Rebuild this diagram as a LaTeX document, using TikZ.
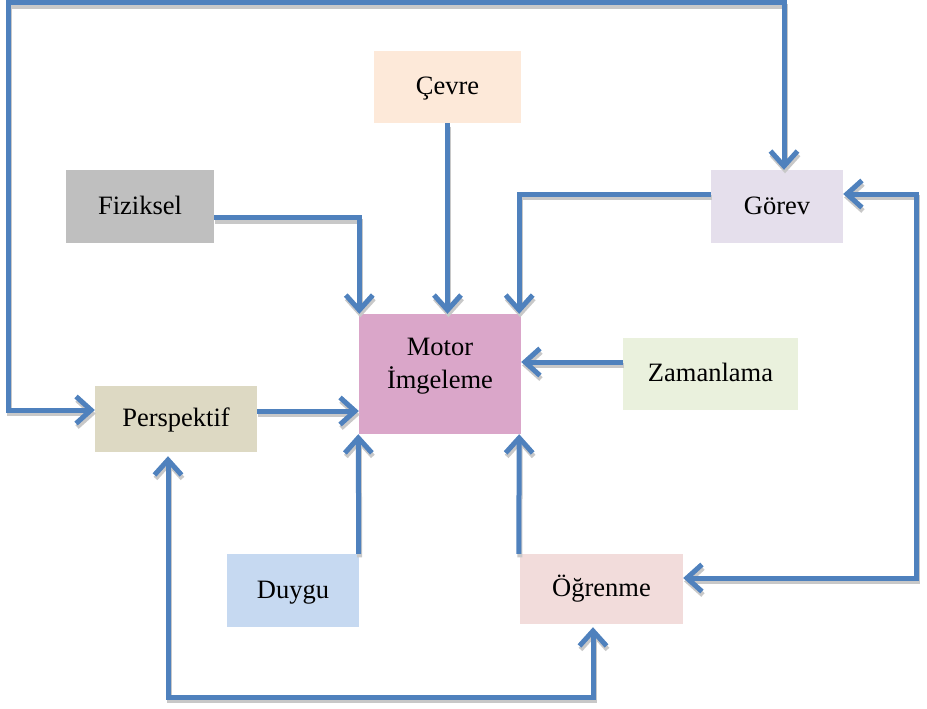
\documentclass[tikz,border=0pt]{standalone}
\usepackage{fontspec}
\setmainfont{Liberation Serif}
\usetikzlibrary{arrows.meta,calc}
\definecolor{linkblue}{HTML}{4F81BD}
\definecolor{shadowgray}{HTML}{C8C8C8}
\definecolor{cevrec}{HTML}{FDE9D9}
\definecolor{fizikc}{HTML}{BFBFBF}
\definecolor{gorevc}{HTML}{E5DFEC}
\definecolor{motorc}{HTML}{DAA6C9}
\definecolor{zamanc}{HTML}{EAF1DD}
\definecolor{perspc}{HTML}{DDD9C3}
\definecolor{duyguc}{HTML}{C6D9F1}
\definecolor{ogrenc}{HTML}{F2DCDB}
\tikzset{
  box/.style={draw=none, inner sep=0pt, align=center, text=black,
    text height=18pt, text depth=2.4pt,
    font=\fontsize{26.5}{33}\selectfont},
  barb/.tip={Straight Barb[length=15pt, width=27pt]},
  link/.style={line width=5pt, arrows={-barb}},
  twoway/.style={line width=5pt, arrows={barb-barb}}
}
% every connector of the chart; drawn once as a shadow, once in blue
\newcommand\chartlinks{%
  \draw[link] (cevre.south) -- (cevre.south |- motor.north);
  \draw[link] (fiziksel.east |- 0,217.5) -| ($(motor.north west)+(0.5,0)$);
  \draw[link] (gorev.west |- 0,194) -| ($(motor.north east)+(-2,0)$);
  \draw[link] (zaman.west |- 0,362) -- (motor.east |- 0,362);
  \draw[link] (persp.east |- 0,411) -- (motor.west |- 0,411);
  \draw[link] ($(duygu.north east)+(-0.5,0)$) -- ($(motor.south west)+(-0.5,0)$);
  \draw[link] ($(ogren.north west)+(-1,0)$) -- ($(motor.south east)+(-2,0)$);
  \draw[twoway] (persp.west |- 0,410) -| (topleft) -- (topright) -- (topright |- gorev.north);
  \draw[twoway] (gorev.east |- rightup) -- (rightup) -- (rightdown) -- (ogren.east |- rightdown);
  \draw[twoway, shorten <=4pt, shorten >=3pt] (botleft |- persp.south) -- (botleft) -- (botright) -- (botright |- ogren.south);
}
\begin{document}
\begin{tikzpicture}[x=1pt, y=-1pt]
\useasboundingbox (0,0) rectangle (927,709);

% blocks
\node[box, fill=cevrec, minimum width=147pt, minimum height=72pt] (cevre) at (447.5,87) {Çevre};
\node[box, fill=fizikc, minimum width=148pt, minimum height=73pt] (fiziksel) at (140,206.5) {Fiziksel};
\node[box, fill=gorevc, minimum width=132pt, minimum height=73pt] (gorev) at (777,206.5) {Görev};
\node[box, fill=motorc, minimum width=162pt, minimum height=120pt, text height=32pt] (motor) at (440,374) {Motor\\İmgeleme};
\node[box, fill=zamanc, minimum width=175pt, minimum height=72pt] (zaman) at (710.5,374) {Zamanlama};
\node[box, fill=perspc, minimum width=162pt, minimum height=66pt] (persp) at (176,419) {Perspektif};
\node[box, fill=duyguc, minimum width=132pt, minimum height=73pt] (duygu) at (293,590.5) {Duygu};
\node[box, fill=ogrenc, minimum width=163pt, minimum height=70pt] (ogren) at (601.5,589) {Öğrenme};

% corners of the outer feedback loops
\coordinate (topleft) at (8,3);
\coordinate (topright) at (784,3);
\coordinate (rightup) at (916,194);
\coordinate (rightdown) at (916,578);
\coordinate (botleft) at (168,697);
\coordinate (botright) at (593,697);

% drop shadow, offset down and slightly right
\begin{scope}[transform canvas={xshift=1pt, yshift=-3.5pt}, draw=shadowgray]
  \chartlinks
\end{scope}
% connectors
\begin{scope}[draw=linkblue]
  \chartlinks
\end{scope}
\end{tikzpicture}
\end{document}
